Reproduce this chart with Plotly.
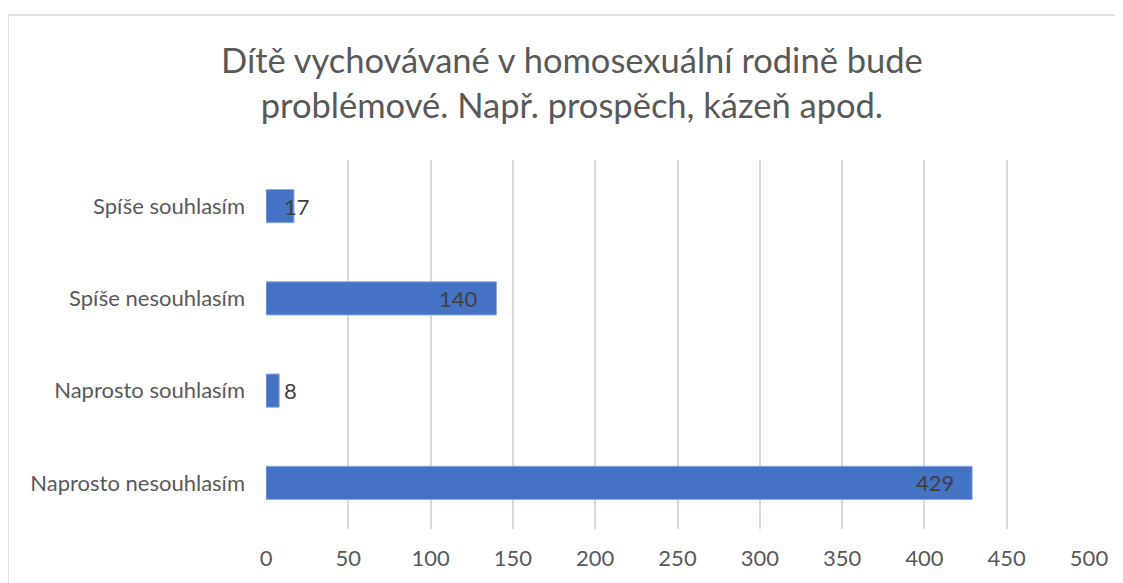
import plotly.graph_objects as go

categories = ["Naprosto nesouhlasím", "Naprosto souhlasím", "Spíše nesouhlasím", "Spíše souhlasím"]
values = [429, 8, 140, 17]
tick_vals = [0, 50, 100, 150, 200, 250, 300, 350, 400, 450, 500]
title_lines = ["Dítě vychovávané v homosexuální rodině bude", "problémové. Např. prospěch, kázeň apod."]

OFF = 8  # browser body margin
W, H = 1123, 583
L = 266 - OFF
T = 160 - OFF
plot_w = 823
plot_h = 369
R = W - L - plot_w
B = H - T - plot_h
xmax = 500
px_per_unit = plot_w / xmax

FONT = "Lato"
LBL = 22

def px_to_paper_x(px_page):
    return (px_page - OFF - L) / plot_w

def px_to_paper_y(py_page):
    return (T + plot_h - (py_page - OFF)) / plot_h

fig = go.Figure()
fig.add_trace(go.Bar(
    y=categories, x=values, orientation="h",
    marker=dict(color="#4472C4", line=dict(color="#8FAADC", width=1)),
    hoverinfo="skip",
))

annotations = []
for cat, v in zip(categories, values):
    label = str(v)
    tw = 12 * len(label)
    bar_px = v * px_per_unit
    if bar_px - 16 - tw < 16:
        annotations.append(dict(x=0, y=cat, xref="x", yref="y", text=label, showarrow=False,
                                xanchor="left", xshift=16,
                                font=dict(family=FONT, size=LBL, color="#404040")))
    else:
        annotations.append(dict(x=v, y=cat, xref="x", yref="y", text=label, showarrow=False,
                                xanchor="right", xshift=-16,
                                font=dict(family=FONT, size=LBL, color="#404040")))

annotations.append(dict(x=px_to_paper_x(572), y=px_to_paper_y(82), xref="paper", yref="paper",
                        text="<br>".join(title_lines), showarrow=False, xanchor="center", yanchor="middle",
                        font=dict(family=FONT, size=34.5, color="#595959"), align="center"))

shapes = [dict(type="rect", xref="paper", yref="paper",
               x0=px_to_paper_x(8), x1=px_to_paper_x(W + 40),
               y0=px_to_paper_y(H + 40), y1=px_to_paper_y(15),
               line=dict(color="#D9D9D9", width=1.5), fillcolor="rgba(0,0,0,0)", layer="below")]

fig.update_layout(
    width=W, height=H,
    margin=dict(l=L, r=R, t=T, b=B),
    paper_bgcolor="white", plot_bgcolor="white",
    bargap=0.64,
    showlegend=False,
    annotations=annotations,
    shapes=shapes,
    font=dict(family=FONT, color="#595959"),
)
fig.update_xaxes(range=[0, xmax], tickvals=tick_vals, showgrid=True, gridcolor="#D9D9D9", gridwidth=1.5,
                 zeroline=False, showline=False, ticks="", tickfont=dict(family=FONT, size=LBL, color="#595959"),
                 ticklabelstandoff=14, fixedrange=True)
fig.update_yaxes(categoryorder="array", categoryarray=categories, showgrid=False, zeroline=False,
                 showline=False, ticks="", tickfont=dict(family=FONT, size=LBL, color="#595959"),
                 ticklabelstandoff=20, fixedrange=True)

fig.write_html("out.html", config={"displayModeBar": False})
